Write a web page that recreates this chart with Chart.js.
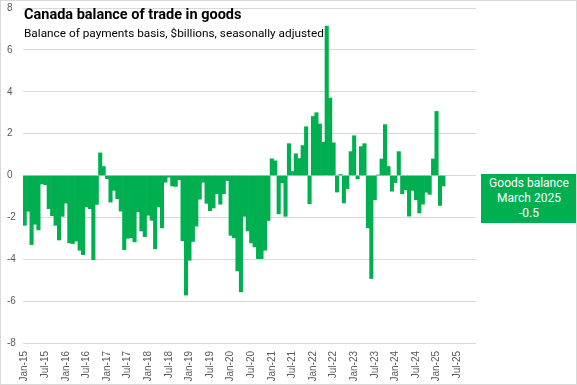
<!DOCTYPE html>
<html><head><meta charset="utf-8">
<script src="https://cdn.jsdelivr.net/npm/chart.js@4.4.1/dist/chart.umd.min.js"></script>
<style>
html,body{margin:0;padding:0;background:#fff;}
#wrap{position:relative;width:577px;height:385px;overflow:hidden;}
#c{position:absolute;left:0;top:0;}
#frame{position:absolute;left:0;top:0;width:577px;height:385px;box-sizing:border-box;border:1px solid #d9d9d9;pointer-events:none;}
#title{position:absolute;left:24px;top:6px;font:bold 14.5px Roboto,sans-serif;color:#000;white-space:nowrap;}
#sub{position:absolute;left:24px;top:26px;font:11.8px Roboto,sans-serif;color:#000;white-space:nowrap;}
#box{position:absolute;left:481px;top:174px;width:96px;height:49px;background:#00B050;color:#fff;font:12px Roboto,sans-serif;text-align:center;line-height:15px;padding-top:2px;box-sizing:border-box;}
</style>
</head><body>
<div id="wrap">
<canvas id="c" width="577" height="385"></canvas>
<div id="title">Canada balance of trade in goods</div>
<div id="sub">Balance of payments basis, $billions, seasonally adjusted</div>
<div id="box">Goods balance<br>March 2025<br>-0.5</div>
<div id="frame"></div>
</div>
<script>
const monthNames = ['Jan','Feb','Mar','Apr','May','Jun','Jul','Aug','Sep','Oct','Nov','Dec'];
const yearsShort = ['15','16','17','18','19','20','21','22','23','24','25'];
const categories = [];
yearsShort.forEach(y => monthNames.forEach(m => categories.push(m + '-' + y)));
const tickLabels = ['Jan-15','Jul-15','Jan-16','Jul-16','Jan-17','Jul-17','Jan-18','Jul-18','Jan-19','Jul-19','Jan-20','Jul-20','Jan-21','Jul-21','Jan-22','Jul-22','Jan-23','Jul-23','Jan-24','Jul-24','Jan-25','Jul-25'];
const yTicks = [-8,-6,-4,-2,0,2,4,6,8];

const bal2015 = [-2.38,-1.71,-3.30,-2.33,-2.60,-0.40,-0.44,-1.59,-1.92,-2.38,-3.08,-1.95];
const bal2016 = [-1.32,-3.22,-3.25,-3.13,-3.57,-3.78,-1.50,-1.59,-4.02,-1.38,1.08,0.43];
const bal2017 = [-0.15,-1.27,-0.71,-1.11,-1.70,-3.54,-3.00,-2.97,-3.17,-1.73,-2.65,-2.92];
const bal2018 = [-1.90,-2.14,-3.50,-1.50,-2.50,-0.32,-0.08,-0.50,-0.52,-0.20,-3.12,-5.71];
const bal2019 = [-4.05,-3.15,-2.42,-1.13,-0.32,-1.33,-1.68,-1.55,-0.87,-1.37,-0.87,-0.24];
const bal2020 = [-2.86,-2.97,-4.56,-5.56,-1.95,-2.65,-3.22,-3.41,-3.97,-3.97,-3.57,-2.15];
const bal2021 = [0.80,0.70,-1.83,-0.35,-1.95,1.52,0.19,1.04,0.81,1.43,2.33,-1.35];
const bal2022 = [2.82,3.00,2.46,1.59,7.14,3.70,1.56,-0.79,0.05,-1.31,-0.63,1.14];
const bal2023 = [1.90,-0.16,1.38,1.52,-2.50,-4.92,-1.16,0.02,0.79,2.43,0.43,-0.75];
const bal2024 = [-0.34,1.14,-0.87,-0.68,-1.94,-0.71,-1.16,-1.79,-1.37,-0.80,-0.90,0.79];
const bal2025 = [3.06,-1.43,-0.50];

const values = [].concat(bal2015,bal2016,bal2017,bal2018,bal2019,bal2020,bal2021,bal2022,bal2023,bal2024,bal2025);
while (values.length < categories.length) values.push(null);

const tickFont = {family:"'Liberation Sans', Arial, sans-serif", size:10};
new Chart(document.getElementById('c'), {
  type:'bar',
  data:{labels:categories, datasets:[{data:values, backgroundColor:'#00B050', borderWidth:0, barPercentage:1, categoryPercentage:1}]},
  options:{
    responsive:false, animation:false, devicePixelRatio:1,
    layout:{padding:{left:7,right:101,top:8,bottom:0}},
    plugins:{legend:{display:false}, tooltip:{enabled:false}, title:{display:false}},
    scales:{
      x:{
        grid:{display:false, drawTicks:true, tickLength:8},
        border:{display:false},
        ticks:{autoSkip:false, maxRotation:90, minRotation:90, padding:0, font:tickFont, color:'#595959',
          callback:(v,i)=> tickLabels.includes(categories[i]) ? categories[i] : ''},
        afterFit:s=>{s.height=42;}
      },
      y:{
        min:-8, max:8,
        afterBuildTicks:s=>{s.ticks = yTicks.map(v=>({value:v}));},
        grid:{color:'#d9d9d9', drawTicks:false},
        border:{display:false},
        ticks:{crossAlign:'far', padding:0, font:tickFont, color:'#595959'},
        afterFit:s=>{s.width=16;}
      }
    }
  }
});
</script>
</body></html>
